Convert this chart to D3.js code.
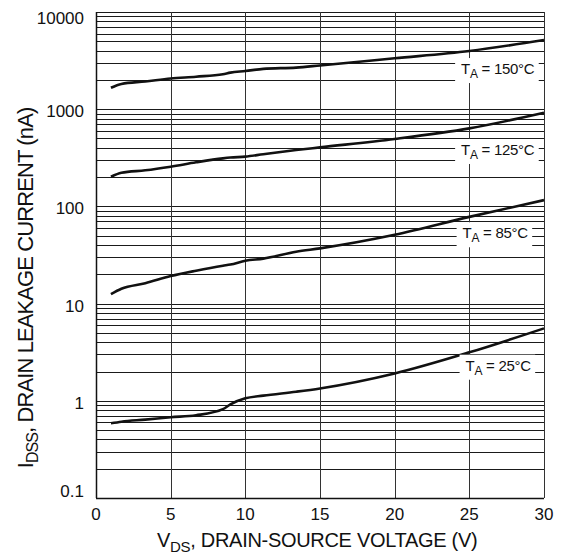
<!DOCTYPE html>
<html>
<head>
<meta charset="utf-8">
<script src="https://cdn.jsdelivr.net/npm/d3@7"></script>
<style>
  body { margin: 0; background: #fff; }
  svg text { font-family: Arial, "Liberation Sans", Helvetica, sans-serif; fill: #111; }
</style>
</head>
<body>
<svg id="chart" width="574" height="556"></svg>
<script>
// Drain-source voltage samples (V)
const vds = [1, 1.7, 3.3, 5, 6.7, 8.5, 9, 10, 11.2, 13.4, 15, 20, 25, 30];

// Drain leakage current (nA) per ambient temperature
const idss150 = [1660, 1820, 1930, 2070, 2160, 2290, 2380, 2470, 2600, 2680, 2820, 3340, 3970, 5150];
const idss125 = [202, 222, 235, 256, 284, 312, 318, 325, 344, 380, 405, 494, 635, 920];
const idss85  = [12.5, 14.2, 16.2, 19.2, 21.8, 24.5, 25.2, 27.6, 29.0, 34.2, 37.0, 51.0, 78.0, 116.0];
const idss25  = [0.587, 0.61, 0.64, 0.677, 0.71, 0.82, 0.92, 1.06, 1.13, 1.24, 1.34, 1.91, 3.15, 5.56];

const tempLabels = ["150°C", "125°C", "85°C", "25°C"];
const xTicks = [0, 5, 10, 15, 20, 25, 30];
const yTicks = [0.1, 1, 10, 100, 1000, 10000];
const yTickLabels = ["0.1", "1", "10", "100", "1000", "10000"];

const series = [idss150, idss125, idss85, idss25].map((vals, i) => ({
  label: tempLabels[i],
  points: vds.map((v, j) => ({ v, i: vals[j] }))
}));

// Where each temperature tag sits (V at text start, current at baseline)
const tagPlacement = [
  { v: 24.45, val: 2300 },
  { v: 24.45, val: 338 },
  { v: 24.55, val: 47 },
  { v: 24.75, val: 2.04 }
];

const svg = d3.select("#chart");
const margin = { top: 12, right: 30, bottom: 58, left: 96 };
const width = 574 - margin.left - margin.right;
const height = 556 - margin.top - margin.bottom;

const x = d3.scaleLinear().domain([0, 30]).range([0, width]);
const y = d3.scaleLog().domain([0.1, 10000]).range([height, 0]);

const g = svg.append("g").attr("transform", `translate(${margin.left},${margin.top})`);

// Horizontal log grid: 1..9 in each decade
const hLines = [];
for (let e = -1; e < 4; e++) {
  for (let k = 1; k < 10; k++) hLines.push(k * Math.pow(10, e));
}
hLines.push(10000);

g.append("g").attr("class", "grid-h")
  .selectAll("line")
  .data(hLines)
  .enter().append("line")
  .attr("x1", 0).attr("x2", width)
  .attr("y1", d => Math.round(y(d)) + 0.5)
  .attr("y2", d => Math.round(y(d)) + 0.5)
  .attr("stroke", "#1a1a1a")
  .attr("stroke-width", 1);

// Vertical grid every 5 V
g.append("g").attr("class", "grid-v")
  .selectAll("line")
  .data(xTicks)
  .enter().append("line")
  .attr("y1", 0).attr("y2", height)
  .attr("x1", d => Math.round(x(d)) + 0.5)
  .attr("x2", d => Math.round(x(d)) + 0.5)
  .attr("stroke", d => (d === 0 ? "#111" : "#333"))
  .attr("stroke-width", d => (d === 0 ? 1.5 : 1));

// Bottom border
g.append("line")
  .attr("x1", 0).attr("x2", width)
  .attr("y1", height + 0.5).attr("y2", height + 0.5)
  .attr("stroke", "#111").attr("stroke-width", 1.5);

// Curves
const line = d3.line()
  .x(d => x(d.v))
  .y(d => y(d.i))
  .curve(d3.curveMonotoneX);

g.append("g").attr("class", "curves")
  .selectAll("path")
  .data(series)
  .enter().append("path")
  .attr("d", d => line(d.points))
  .attr("fill", "none")
  .attr("stroke", "#111")
  .attr("stroke-width", 2.6)
  .attr("stroke-linejoin", "round");

// Temperature tags with white boxes over the grid
series.forEach((s, i) => {
  const p = tagPlacement[i];
  const tag = g.append("g");
  const box = tag.append("rect").attr("fill", "#fff");
  const t = tag.append("text")
    .attr("x", x(p.v))
    .attr("y", y(p.val))
    .attr("font-size", 15)
    .attr("letter-spacing", -0.3);
  t.append("tspan").text("T");
  t.append("tspan").attr("dy", 4).attr("font-size", 12).text("A");
  t.append("tspan").attr("dy", -4).text(" = " + s.label);
  const bb = t.node().getBBox();
  box.attr("x", bb.x - 6).attr("y", bb.y - 2)
    .attr("width", bb.width + 10).attr("height", bb.height + 4);
});

// X tick labels
g.append("g").attr("class", "x-labels")
  .selectAll("text")
  .data(xTicks)
  .enter().append("text")
  .attr("x", d => x(d))
  .attr("y", height + 22)
  .attr("text-anchor", "middle")
  .attr("font-size", 17)
  .text(d => d);

// Y tick labels (top and bottom nudged inside like the original sheet)
g.append("g").attr("class", "y-labels")
  .selectAll("text")
  .data(yTicks)
  .enter().append("text")
  .attr("x", -12)
  .attr("y", d => y(d))
  .attr("dy", (d, i) => (i === 0 ? -1 : i === yTicks.length - 1 ? 12 : 8))
  .attr("text-anchor", "end")
  .attr("font-size", 17)
  .text((d, i) => yTickLabels[i]);

// Axis titles
const xTitle = svg.append("text")
  .attr("x", 157)
  .attr("y", 547)
  .attr("font-size", 20)
  .attr("letter-spacing", -0.3);
xTitle.append("tspan").text("V");
xTitle.append("tspan").attr("dy", 5).attr("font-size", 15).text("DS");
xTitle.append("tspan").attr("dy", -5).text(", DRAIN-SOURCE VOLTAGE (V)");

const yTitle = svg.append("text")
  .attr("transform", "translate(33,288) rotate(-90)")
  .attr("text-anchor", "middle")
  .attr("font-size", 22)
  .attr("letter-spacing", -0.9);
yTitle.append("tspan").text("I");
yTitle.append("tspan").attr("dy", 5).attr("font-size", 16).text("DSS");
yTitle.append("tspan").attr("dy", -5).text(", DRAIN LEAKAGE CURRENT (nA)");
</script>
</body>
</html>
